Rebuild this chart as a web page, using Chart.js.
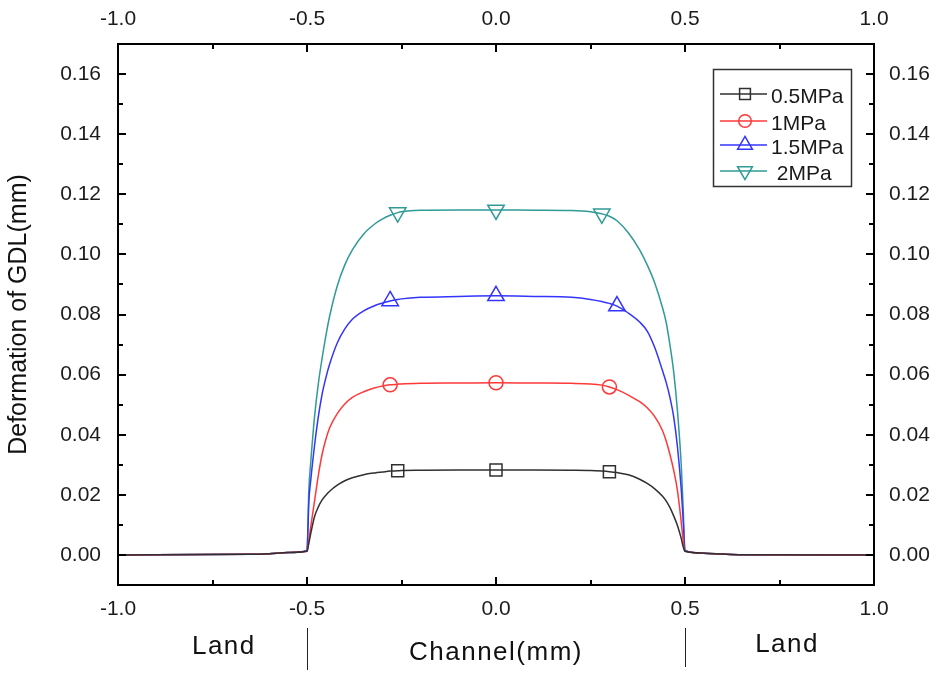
<!DOCTYPE html>
<html>
<head>
<meta charset="utf-8">
<script src="https://cdn.jsdelivr.net/npm/chart.js@4.4.0/dist/chart.umd.min.js"></script>
<style>
html, body { margin: 0; padding: 0; background: #fff; }
#wrap { width: 940px; height: 673px; }
</style>
</head>
<body>
<div id="wrap"><canvas id="chart" width="940" height="673"></canvas></div>
<script>
// x position across land / channel / land (mm)
var positions = [-1.0, -0.65, -0.6, -0.55, -0.5, -0.495, -0.49, -0.48, -0.47, -0.46, -0.45, -0.44, -0.42, -0.40, -0.38, -0.35, -0.32, -0.30, -0.28, -0.26, -0.25, -0.2, -0.1, 0.0,
                 0.1, 0.2, 0.25, 0.28, 0.30, 0.32, 0.35, 0.38, 0.40, 0.42, 0.44, 0.45, 0.46, 0.47, 0.48, 0.49, 0.495, 0.5, 0.55, 0.6, 0.65, 1.0];

// GDL deformation (mm)
var def05 = [0, 0.0002, 0.0004, 0.0008, 0.0012, 0.0040, 0.0072, 0.0128, 0.0160, 0.0183, 0.0199, 0.0212, 0.0232, 0.0247, 0.0257, 0.0267, 0.0273, 0.0276, 0.0279, 0.0280, 0.0281, 0.0282, 0.0283, 0.0283,
             0.0283, 0.0282, 0.0281, 0.0279, 0.0277, 0.0274, 0.0267, 0.0252, 0.0238, 0.0220, 0.0196, 0.0180, 0.0158, 0.0130, 0.0098, 0.0055, 0.0028, 0.0012, 0.0006, 0.0003, 0.0001, 0];
var def10 = [0, 0.0002, 0.0004, 0.0008, 0.0012, 0.0050, 0.0095, 0.0180, 0.0265, 0.0335, 0.0385, 0.0423, 0.0470, 0.0502, 0.0524, 0.0543, 0.0556, 0.0562, 0.0566, 0.0568, 0.0569, 0.0571, 0.0572, 0.0573,
             0.0572, 0.0571, 0.0569, 0.0565, 0.0559, 0.0550, 0.0532, 0.0510, 0.0490, 0.0460, 0.0415, 0.0380, 0.0335, 0.0282, 0.0215, 0.0110, 0.0050, 0.0012, 0.0006, 0.0003, 0.0001, 0];
var def15 = [0, 0.0002, 0.0004, 0.0008, 0.0015, 0.0180, 0.0250, 0.0365, 0.0460, 0.0535, 0.0590, 0.0635, 0.0705, 0.0752, 0.0784, 0.0812, 0.0830, 0.0838, 0.0845, 0.0850, 0.0852, 0.0857, 0.0860, 0.0862,
             0.0860, 0.0857, 0.0850, 0.0843, 0.0837, 0.0828, 0.0805, 0.0775, 0.0745, 0.0690, 0.0615, 0.0575, 0.0525, 0.0460, 0.0360, 0.0220, 0.0120, 0.0015, 0.0006, 0.0003, 0.0001, 0];
var def20 = [0, 0.0002, 0.0004, 0.0008, 0.0015, 0.0220, 0.0310, 0.0460, 0.0570, 0.0655, 0.0730, 0.0795, 0.0895, 0.0965, 0.1015, 0.1068, 0.1102, 0.1118, 0.1130, 0.1139, 0.1142, 0.1147, 0.1148, 0.1148,
             0.1147, 0.1146, 0.1142, 0.1135, 0.1127, 0.1112, 0.1072, 0.1015, 0.0965, 0.0905, 0.0825, 0.0775, 0.0700, 0.0610, 0.0480, 0.0300, 0.0160, 0.0015, 0.0006, 0.0003, 0.0001, 0];

// where the symbols sit on each curve
var marks05 = [-0.26, 0, 0.30];
var marks10 = [-0.28, 0, 0.30];
var marks15 = [-0.28, 0, 0.32];
var marks20 = [-0.26, 0, 0.28];

var seriesNames = ['0.5MPa', '1MPa', '1.5MPa', ' 2MPa'];
var xTickMarks = [-1.0, -0.75, -0.5, -0.25, 0, 0.25, 0.5, 0.75, 1.0];
var yTickMarks = [-0.01, 0, 0.01, 0.02, 0.03, 0.04, 0.05, 0.06, 0.07, 0.08, 0.09, 0.10, 0.11, 0.12, 0.13, 0.14, 0.15, 0.16, 0.17];
var regionLabels = ['Land', 'Channel(mm)', 'Land'];

var FONT = "'Liberation Sans', Arial, sans-serif";
Chart.defaults.font.family = FONT;

var styles = [
    {color: '#303030', point: 'rect',     radius: 8.5, rotation: 0},
    {color: '#ff3838', point: 'circle',   radius: 7,   rotation: 0},
    {color: '#3434ff', point: 'triangle', radius: 9.5, rotation: 0},
    {color: '#2f9a96', point: 'triangle', radius: 9.5, rotation: 180}
];
var allValues = [def05, def10, def15, def20];
var allMarks = [marks05, marks10, marks15, marks20];

function makeDataset(i) {
    var st = styles[i];
    var marks = allMarks[i];
    return {
        label: seriesNames[i],
        data: positions.map(function(x, k){ return {x: x, y: allValues[i][k]}; }),
        borderColor: st.color,
        borderWidth: 1.5,
        cubicInterpolationMode: 'monotone',
        pointStyle: st.point,
        pointRotation: st.rotation,
        pointBorderColor: st.color,
        pointBackgroundColor: 'rgba(0,0,0,0)',
        pointBorderWidth: 1.5,
        pointRadius: function(ctx){
            var x = positions[ctx.dataIndex];
            return marks.some(function(m){ return Math.abs(m - x) < 1e-6; }) ? st.radius : 0;
        },
        pointHoverRadius: 0
    };
}

function yLabel(v) {
    var n = Math.round(v * 100);
    if (n < 0 || n > 16 || n % 2 !== 0) return '';
    return v.toFixed(2);
}

// inward ticks, region labels under the x axis and the legend box
var decorations = {
    id: 'decorations',
    afterDraw: function(chart) {
        var ctx = chart.ctx, a = chart.chartArea;
        var sx = chart.scales.x, sy = chart.scales.y;
        ctx.save();
        ctx.strokeStyle = '#000';
        ctx.lineWidth = 2;
        ctx.beginPath();
        xTickMarks.forEach(function(v){
            var px = Math.round(sx.getPixelForValue(v));
            var len = Math.abs(v * 2 - Math.round(v * 2)) < 1e-6 ? 8 : 5;
            ctx.moveTo(px, a.bottom); ctx.lineTo(px, a.bottom - len);
            ctx.moveTo(px, a.top); ctx.lineTo(px, a.top + len);
        });
        yTickMarks.forEach(function(v){
            var py = Math.round(sy.getPixelForValue(v));
            var n = Math.round(v * 100);
            var len = (n % 2 === 0) ? 8 : 5;
            ctx.moveTo(a.left, py); ctx.lineTo(a.left + len, py);
            ctx.moveTo(a.right, py); ctx.lineTo(a.right - len, py);
        });
        ctx.stroke();

        // Land | Channel | Land
        ctx.fillStyle = '#111';
        ctx.font = '26px ' + FONT;
        ctx.letterSpacing = '1.5px';
        ctx.textAlign = 'center';
        ctx.textBaseline = 'alphabetic';
        ctx.fillText(regionLabels[0], sx.getPixelForValue(-0.72), 654);
        ctx.fillText(regionLabels[1], sx.getPixelForValue(0), 660);
        ctx.fillText(regionLabels[2], sx.getPixelForValue(0.77), 652);
        ctx.letterSpacing = '0px';
        ctx.strokeStyle = '#222';
        ctx.lineWidth = 1;
        ctx.beginPath();
        var s1 = Math.round(sx.getPixelForValue(-0.5)) + 0.5, s2 = Math.round(sx.getPixelForValue(0.5)) + 0.5;
        ctx.moveTo(s1, 628); ctx.lineTo(s1, 670);
        ctx.moveTo(s2, 628); ctx.lineTo(s2, 667);
        ctx.stroke();

        // legend
        var bx = 713.5, by = 69.5, bw = 138, bh = 117;
        ctx.fillStyle = '#fff';
        ctx.fillRect(bx, by, bw, bh);
        ctx.strokeStyle = '#333';
        ctx.lineWidth = 1.5;
        ctx.strokeRect(bx, by, bw, bh);
        var rows = [94, 121, 145, 171];
        ctx.font = '21px ' + FONT;
        ctx.textAlign = 'left';
        ctx.textBaseline = 'middle';
        styles.forEach(function(st, i){
            var y = rows[i];
            ctx.strokeStyle = st.color;
            ctx.lineWidth = 1.5;
            ctx.beginPath();
            ctx.moveTo(720, y); ctx.lineTo(767, y);
            ctx.stroke();
            ctx.fillStyle = 'rgba(0,0,0,0)';
            Chart.helpers.drawPoint(ctx, {pointStyle: st.point, radius: st.radius * 0.9, rotation: st.rotation, borderWidth: 1.5}, 745, y);
            ctx.fillStyle = '#1a1a1a';
            ctx.fillText(seriesNames[i], 771, y + 3);
        });
        ctx.restore();
    }
};

var tickFont = {size: 21, family: FONT};
var frameBorder = {display: true, color: '#000', width: 2};

new Chart(document.getElementById('chart'), {
    type: 'line',
    data: {datasets: [0, 1, 2, 3].map(makeDataset)},
    options: {
        responsive: false,
        animation: false,
        layout: {padding: 0},
        plugins: {legend: {display: false}, tooltip: {enabled: false}},
        scales: {
            x: {
                type: 'linear', position: 'bottom', min: -1, max: 1,
                grid: {display: false, drawTicks: false},
                border: frameBorder,
                ticks: {stepSize: 0.5, color: '#1c1c1c', font: tickFont, padding: 12, maxRotation: 0,
                        callback: function(v){ return v.toFixed(1); }},
                afterFit: function(s){ s.height = 88; }
            },
            x2: {
                type: 'linear', position: 'top', min: -1, max: 1,
                grid: {display: false, drawTicks: false},
                border: frameBorder,
                ticks: {stepSize: 0.5, color: '#1c1c1c', font: tickFont, padding: 12, maxRotation: 0,
                        callback: function(v){ return v.toFixed(1); }},
                afterFit: function(s){ s.height = 44; }
            },
            y: {
                type: 'linear', position: 'left', min: -0.01, max: 0.17,
                grid: {display: false, drawTicks: false},
                border: frameBorder,
                ticks: {stepSize: 0.01, autoSkip: false, color: '#1c1c1c', font: tickFont, padding: 17, callback: yLabel},
                title: {display: true, text: 'Deformation of GDL(mm)', color: '#111',
                        font: {size: 25, family: FONT}, padding: {top: 4, bottom: 0}},
                afterFit: function(s){ s.width = 118; }
            },
            y2: {
                type: 'linear', position: 'right', min: -0.01, max: 0.17,
                grid: {display: false, drawTicks: false},
                border: frameBorder,
                ticks: {stepSize: 0.01, autoSkip: false, color: '#1c1c1c', font: tickFont, padding: 15, callback: yLabel},
                afterFit: function(s){ s.width = 66; }
            }
        }
    },
    plugins: [decorations]
});
</script>
</body>
</html>
